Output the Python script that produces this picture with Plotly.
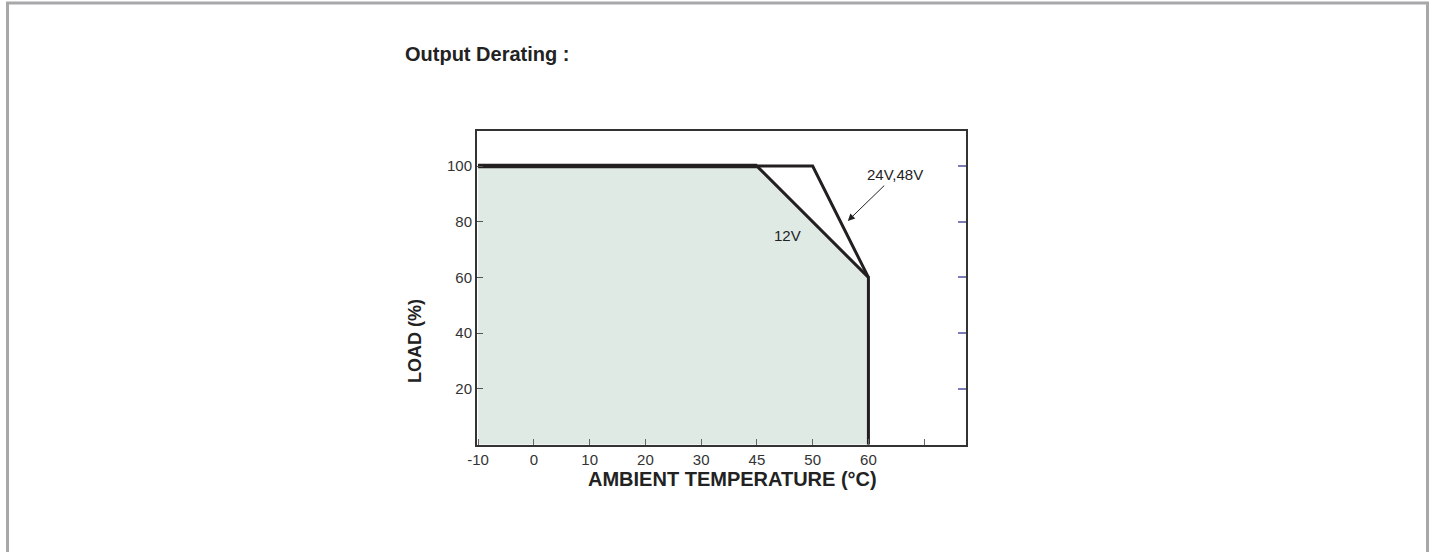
import numpy as np
import plotly.graph_objects as go

# ---- data ----
tick_temps = [-10, 0, 10, 20, 30, 45, 50, 60, 70]
tick_labels = ["-10", "0", "10", "20", "30", "45", "50", "60", ""]
load_ticks = [20, 40, 60, 80, 100]

v12_temp = [-10, 45, 60, 60]
v12_load = [100, 100, 60, 0]
v24_temp = [-10, 50, 60]
v24_load = [100, 100, 60]

tick_idx = list(range(len(tick_temps)))


def tpos(t):
    return np.interp(t, tick_temps, tick_idx)


W, H = 1436, 552
L, R, T, B = 477, 966, 131, 445  # plot area in px
pw, ph = R - L, B - T


def px(x):
    return (x - L) / pw


def py(y):
    return (B - y) / ph


fig = go.Figure()

fig.add_trace(go.Scatter(
    x=tpos(v12_temp), y=v12_load, mode="lines", fill="tozeroy",
    fillcolor="#e0eae5", line=dict(color="#231f20", width=3),
    hoverinfo="skip", showlegend=False))
fig.add_trace(go.Scatter(
    x=tpos(v24_temp), y=v24_load, mode="lines",
    line=dict(color="#231f20", width=3),
    hoverinfo="skip", showlegend=False))
# shared flat rating segment drawn a bit heavier, as in the reference
fig.add_trace(go.Scatter(
    x=tpos(v12_temp[:2]), y=v12_load[:2], mode="lines",
    line=dict(color="#231f20", width=4.5),
    hoverinfo="skip", showlegend=False))
# invisible trace for right axis
fig.add_trace(go.Scatter(x=[None], y=[None], yaxis="y2", showlegend=False))

tick_font = dict(family="Liberation Sans, Arial, sans-serif", size=15, color="#333")

fig.update_layout(
    width=W, height=H,
    margin=dict(l=L, r=W - R, t=T, b=H - B, pad=0),
    paper_bgcolor="white", plot_bgcolor="white",
    xaxis=dict(range=[-0.02, 8.75], tickvals=tick_idx, ticktext=tick_labels,
               ticks="inside", ticklen=6, tickwidth=1, tickcolor="#666",
               showgrid=False, zeroline=False, showline=True, linecolor="#333",
               linewidth=2, mirror=True, tickfont=tick_font),
    yaxis=dict(range=[-0.2, 112.6], tickvals=load_ticks, ticks="inside",
               ticklen=6, tickwidth=1, tickcolor="#555", showgrid=False,
               zeroline=False, showline=True, linecolor="#333", linewidth=2,
               tickfont=tick_font),
    yaxis2=dict(range=[-0.2, 112.6], tickvals=load_ticks, ticks="inside",
                ticklen=8, tickwidth=1.5, tickcolor="#7a7db5", showticklabels=False,
                overlaying="y", side="right", showgrid=False, zeroline=False,
                showline=True, linecolor="#333", linewidth=1.5),
    title=dict(text="<b>Output Derating :</b>", xref="container", yref="container",
               x=405 / W, y=1 - 54 / H, xanchor="left", yanchor="middle",
               font=dict(family="Liberation Sans, Arial, sans-serif", size=20, color="#222")),
)

ann_font = dict(family="Liberation Sans, Arial, sans-serif", size=15, color="#222")
fig.add_annotation(x=tpos(45) + 0.54, y=75, text="12V", showarrow=False, font=ann_font,
                   xanchor="center", yanchor="middle")
fig.add_annotation(x=tpos(60) + 0.47, y=97, text="24V,48V", showarrow=False, font=ann_font,
                   xanchor="center", yanchor="middle")
fig.add_annotation(x=tpos(50) + 0.63, y=80.3, ax=tpos(60) + 0.31, ay=93.5,
                   axref="x", ayref="y", xref="x", yref="y", text="",
                   showarrow=True, arrowhead=2, arrowsize=1.4, arrowwidth=1, arrowcolor="#222")

axis_font = dict(family="Liberation Sans, Arial, sans-serif", size=20, color="#222")
fig.add_annotation(xref="paper", yref="paper", x=px(732), y=py(479),
                   xanchor="center", yanchor="middle",
                   text="<b>AMBIENT TEMPERATURE (°C)</b>", showarrow=False, font=axis_font)
fig.add_annotation(xref="paper", yref="paper", x=px(415), y=py(341),
                   xanchor="center", yanchor="middle",
                   text="<b>LOAD (%)</b>", textangle=-90, showarrow=False,
                   font=dict(family="Liberation Sans, Arial, sans-serif", size=18, color="#222"))

# page frame
fig.add_shape(type="rect", xref="paper", yref="paper",
              x0=px(7.5), x1=px(1427.5), y0=py(560), y1=py(3),
              line=dict(color="#a8a8aa", width=3), fillcolor="rgba(0,0,0,0)", layer="below")

fig.write_html("out.html", config={"displayModeBar": False},
               post_script="document.body.style.margin='0';document.body.style.overflow='hidden';")
